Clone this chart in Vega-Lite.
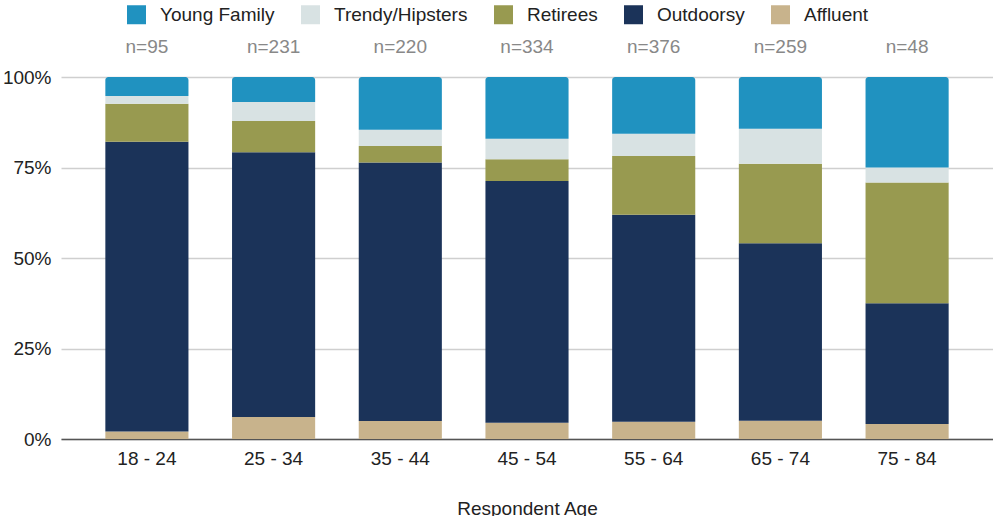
{
  "$schema": "https://vega.github.io/schema/vega-lite/v6.json",
  "width": 932,
  "height": 362,
  "autosize": "none",
  "padding": {"left": 61, "top": 77, "right": 0, "bottom": 77},
  "background": "white",
  "config": {
    "font": "Liberation Sans",
    "view": {"stroke": null}
  },
  "data": {
    "values": [
      {"age": "18 - 24", "segment": "Affluent", "count": 2},
      {"age": "18 - 24", "segment": "Outdoorsy", "count": 76},
      {"age": "18 - 24", "segment": "Retirees", "count": 10},
      {"age": "18 - 24", "segment": "Trendy/Hipsters", "count": 2},
      {"age": "18 - 24", "segment": "Young Family", "count": 5},
      {"age": "25 - 34", "segment": "Affluent", "count": 14},
      {"age": "25 - 34", "segment": "Outdoorsy", "count": 169},
      {"age": "25 - 34", "segment": "Retirees", "count": 20},
      {"age": "25 - 34", "segment": "Trendy/Hipsters", "count": 12},
      {"age": "25 - 34", "segment": "Young Family", "count": 16},
      {"age": "35 - 44", "segment": "Affluent", "count": 11},
      {"age": "35 - 44", "segment": "Outdoorsy", "count": 157},
      {"age": "35 - 44", "segment": "Retirees", "count": 10},
      {"age": "35 - 44", "segment": "Trendy/Hipsters", "count": 10},
      {"age": "35 - 44", "segment": "Young Family", "count": 32},
      {"age": "45 - 54", "segment": "Affluent", "count": 15},
      {"age": "45 - 54", "segment": "Outdoorsy", "count": 223},
      {"age": "45 - 54", "segment": "Retirees", "count": 20},
      {"age": "45 - 54", "segment": "Trendy/Hipsters", "count": 19},
      {"age": "45 - 54", "segment": "Young Family", "count": 57},
      {"age": "55 - 64", "segment": "Affluent", "count": 18},
      {"age": "55 - 64", "segment": "Outdoorsy", "count": 215},
      {"age": "55 - 64", "segment": "Retirees", "count": 61},
      {"age": "55 - 64", "segment": "Trendy/Hipsters", "count": 23},
      {"age": "55 - 64", "segment": "Young Family", "count": 59},
      {"age": "65 - 74", "segment": "Affluent", "count": 13},
      {"age": "65 - 74", "segment": "Outdoorsy", "count": 127},
      {"age": "65 - 74", "segment": "Retirees", "count": 57},
      {"age": "65 - 74", "segment": "Trendy/Hipsters", "count": 25},
      {"age": "65 - 74", "segment": "Young Family", "count": 37},
      {"age": "75 - 84", "segment": "Affluent", "count": 2},
      {"age": "75 - 84", "segment": "Outdoorsy", "count": 16},
      {"age": "75 - 84", "segment": "Retirees", "count": 16},
      {"age": "75 - 84", "segment": "Trendy/Hipsters", "count": 2},
      {"age": "75 - 84", "segment": "Young Family", "count": 12}
    ]
  },
  "transform": [
    {
      "stack": "count",
      "groupby": ["age"],
      "sort": [{"field": "segment", "order": "ascending"}],
      "offset": "normalize",
      "as": ["y0", "y1"]
    }
  ],
  "encoding": {
    "x": {
      "field": "age",
      "type": "nominal",
      "scale": {"paddingInner": 0.344, "paddingOuter": 0.35},
      "axis": {
        "title": "Respondent Age",
        "labelAngle": 0,
        "labelFontSize": 19,
        "labelColor": "#222222",
        "labelPadding": 10,
        "ticks": false,
        "tickSize": 0,
        "domainColor": "#555555",
        "domainWidth": 1.5,
        "titleFontSize": 19,
        "titleFontWeight": "normal",
        "titleColor": "#222222",
        "titlePadding": 31
      }
    }
  },
  "layer": [
    {
      "transform": [{"filter": "datum.segment !== 'Young Family'"}],
      "mark": {"type": "bar"},
      "encoding": {
        "y": {
          "field": "y1",
          "type": "quantitative",
          "scale": {"domain": [0, 1]},
          "axis": {
            "title": null,
            "values": [0, 0.25, 0.5, 0.75, 1],
            "format": ".0%",
            "labelFontSize": 19,
            "labelColor": "#222222",
            "labelPadding": 10,
            "ticks": false,
            "tickSize": 0,
            "domain": false,
            "gridColor": "#cfcfcf",
            "gridWidth": 1.5
          }
        },
        "y2": {"field": "y0"},
        "color": {
          "field": "segment",
          "type": "nominal",
          "scale": {
            "domain": ["Young Family", "Trendy/Hipsters", "Retirees", "Outdoorsy", "Affluent"],
            "range": ["#2092c0", "#d8e2e3", "#989a50", "#1b3359", "#c8b38c"]
          },
          "legend": {
            "title": null,
            "orient": "none",
            "direction": "horizontal",
            "legendX": 66,
            "legendY": -72,
            "symbolType": "square",
            "symbolSize": 361,
            "symbolStrokeWidth": 0,
            "symbolOpacity": 1,
            "labelFontSize": 19,
            "labelColor": "#222222",
            "labelOffset": 14,
            "columnPadding": 26
          }
        }
      }
    },
    {
      "transform": [{"filter": "datum.segment === 'Young Family'"}],
      "mark": {"type": "bar", "cornerRadiusTopLeft": 3, "cornerRadiusTopRight": 3},
      "encoding": {
        "y": {"field": "y1", "type": "quantitative"},
        "y2": {"field": "y0"},
        "color": {"field": "segment", "type": "nominal"}
      }
    },
    {
      "transform": [
        {"aggregate": [{"op": "sum", "field": "count", "as": "n"}], "groupby": ["age"]},
        {"calculate": "'n=' + datum.n", "as": "label"}
      ],
      "mark": {"type": "text", "fontSize": 19, "color": "#888888", "dy": -30, "baseline": "middle"},
      "encoding": {
        "y": {"datum": 1, "type": "quantitative"},
        "text": {"field": "label"}
      }
    }
  ]
}
